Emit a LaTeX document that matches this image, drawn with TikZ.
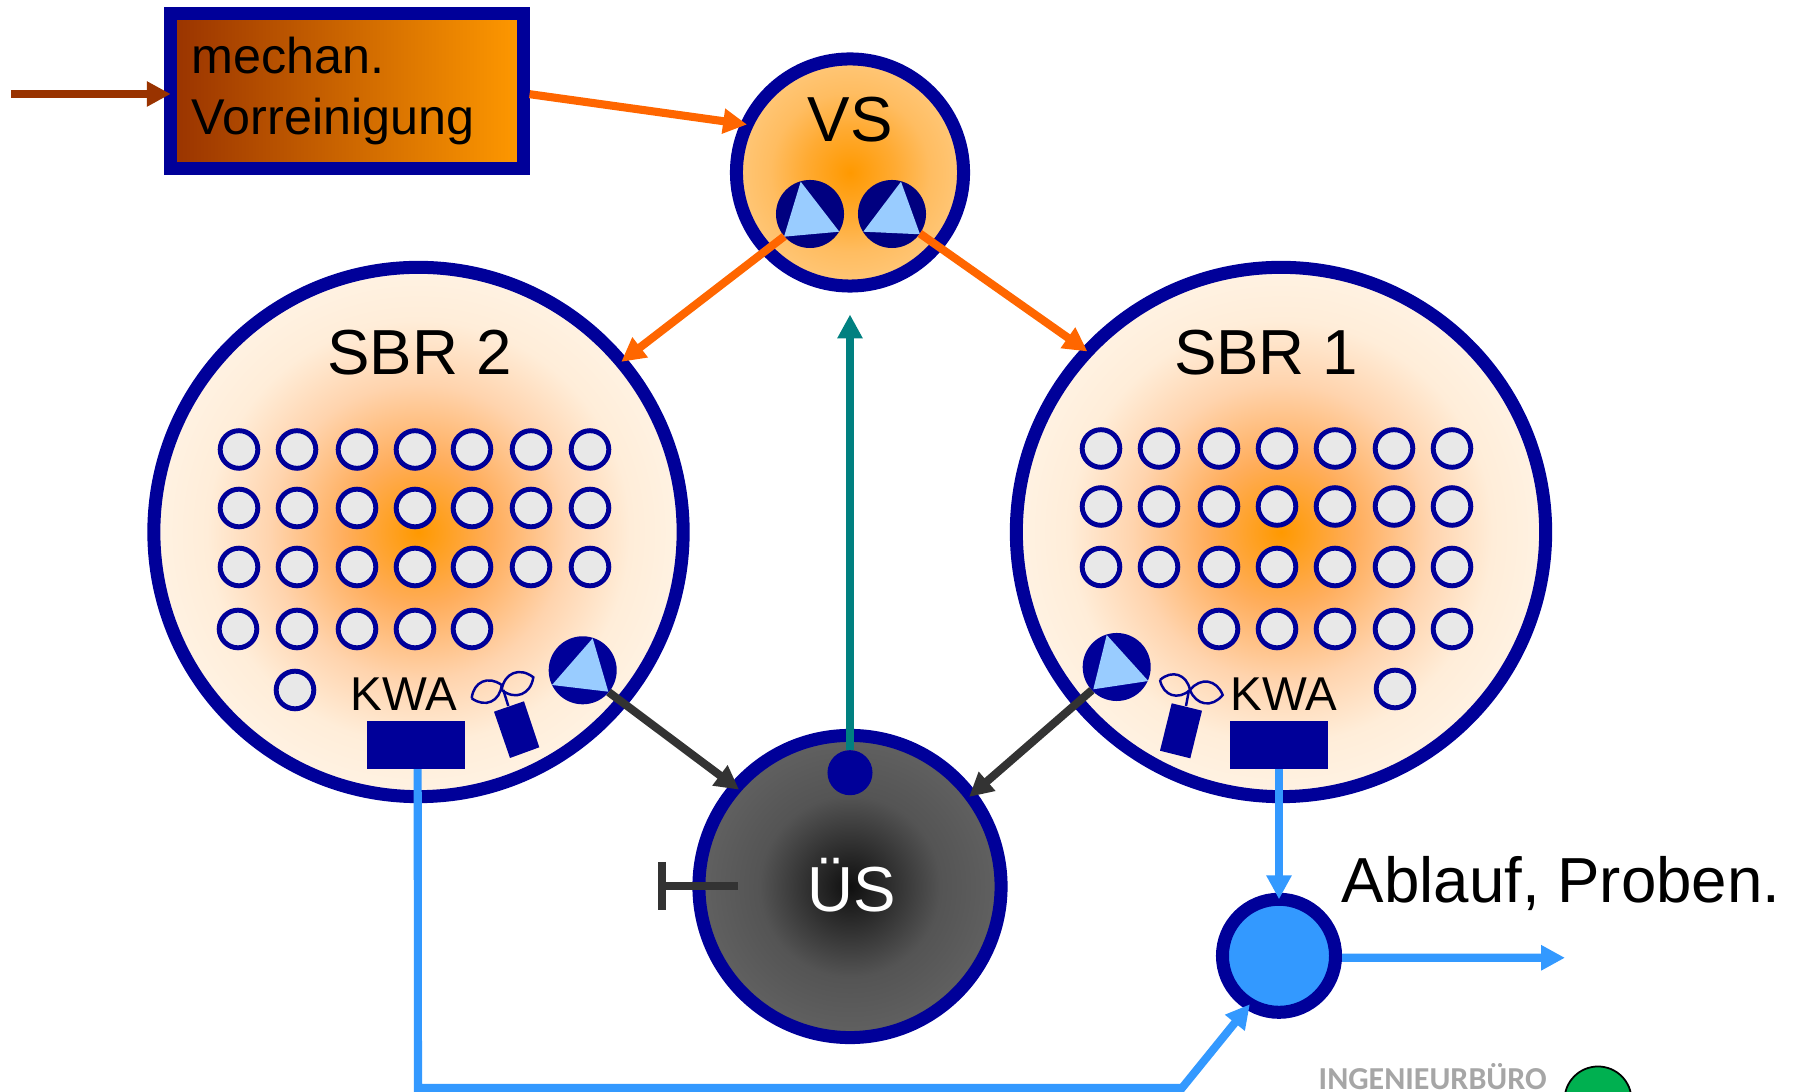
\documentclass[tikz,border=0pt]{standalone}
\usepackage{fontspec}
\setmainfont{Liberation Sans}
\newfontfamily\logofont{Carlito}
\usetikzlibrary{arrows.meta}
\definecolor{ringblue}{HTML}{000099}
\definecolor{pumpnavy}{HTML}{000080}
\definecolor{pumpsky}{HTML}{99CCFF}
\definecolor{bubblegrey}{HTML}{E8E8E8}
\definecolor{rawbrown}{HTML}{993300}
\definecolor{feedorange}{HTML}{FF6600}
\definecolor{glowcore}{HTML}{FF9900}
\definecolor{sludgedark}{HTML}{333333}
\definecolor{returnteal}{HTML}{008080}
\definecolor{cleanblue}{HTML}{3399FF}
\definecolor{logogrey}{HTML}{A6A6A6}
\definecolor{logogreen}{HTML}{00B050}
\pgfdeclareradialshading{sbrglow}{\pgfpoint{0bp}{0bp}}{color(0bp)=(glowcore); rgb(7bp)=(1,0.68,0.36); rgb(14bp)=(1,0.83,0.68); rgb(20bp)=(1,0.93,0.85); rgb(25bp)=(1,0.95,0.89); rgb(50bp)=(1,0.95,0.89)}
\pgfdeclareradialshading{vsglow}{\pgfpoint{0bp}{0bp}}{color(0bp)=(glowcore); rgb(10bp)=(1,0.67,0.2); rgb(17.5bp)=(1,0.74,0.38); rgb(25bp)=(1,0.78,0.47); rgb(50bp)=(1,0.78,0.47)}
\pgfdeclareradialshading{usglow}{\pgfpoint{0bp}{0bp}}{rgb(0bp)=(0.06,0.06,0.06); rgb(6bp)=(0.17,0.17,0.17); rgb(15bp)=(0.33,0.33,0.33); rgb(25bp)=(0.38,0.38,0.38); rgb(50bp)=(0.38,0.38,0.38)}
\tikzset{
  ring/.style={circle,draw=ringblue,line width=3.7pt,inner sep=0pt,outer sep=0pt,shade},
  bubble/.style={circle,draw=ringblue,fill=bubblegrey,line width=1.4pt,inner sep=0pt,outer sep=0pt,minimum size=.376cm},
  pump/.style={circle,fill=ringblue,inner sep=0pt,outer sep=0pt,minimum size=.68cm},
  kwabox/.style={rectangle,fill=ringblue,inner sep=0pt,outer sep=0pt,minimum width=.97cm,minimum height=.48cm},
  flow/.style={line width=2.3pt,-{Triangle[length=6.8pt,width=6.8pt]}},
  leaf/.style={draw=ringblue,line width=.7pt,bend left=60,looseness=1.3},
  big/.style={font=\fontsize{18.1}{21}\selectfont,inner sep=0pt,anchor=base},
  kwalabel/.style={font=\fontsize{13.5}{16}\selectfont,inner sep=0pt,anchor=base}
}
\begin{document}
\begin{tikzpicture}[x=.01cm,y=-.01cm]
\useasboundingbox (0,0) rectangle (1793,1092);
\clip (0,0) rectangle (1793,1092);
\node[rectangle,draw=ringblue,line width=3.7pt,left color=rawbrown,right color=glowcore,inner sep=.21cm,text width=3.1cm,minimum height=1.54cm,align=left,font=\fontsize{14.3}{17.24}\selectfont] (vorr) at (347,91) {mechan.\\Vorreinigung};
\node[ring,shading=vsglow,minimum size=2.27cm] (vs) at (850,172.5) {};
\node[ring,shading=sbrglow,minimum size=5.29cm] (sbrII) at (418.5,532) {};
\node[ring,shading=sbrglow,minimum size=5.29cm] (sbrI) at (1281,532) {};
\node[ring,shading=usglow,minimum size=3.02cm] (us) at (850,886.5) {};
\node[circle,draw=ringblue,fill=cleanblue,line width=3.7pt,inner sep=0pt,outer sep=0pt,minimum size=1.13cm] (abl) at (1279,955.8) {};
\node[big] (vslabel) at (850,141.7) {VS};
\node[big] (sbrIIlabel) at (419.5,375) {SBR 2};
\node[big] (sbrIlabel) at (1266,375) {SBR 1};
\node[big,white] (uslabel) at (852,911.7) {ÜS};
\node[big,anchor=base west] (abllabel) at (1341,902.7) {Ablauf, Proben.};
\node[kwalabel] (kwaIIlabel) at (404,710.7) {KWA};
\node[kwalabel] (kwaIlabel) at (1284,710.7) {KWA};
\foreach \y [count=\j] in {449.5,508,567}
  \foreach \x [count=\i] in {239,297,357,415,472,531,590}
    \node[bubble] (bII-\j-\i) at (\x,\y) {};
\foreach \x [count=\i] in {238,297,357,415,472}
  \node[bubble] (bII-4-\i) at (\x,629) {};
\foreach \y [count=\j] in {448.5,506.5,567}
  \foreach \x [count=\i] in {1101,1159,1219,1277,1335,1394,1452}
    \node[bubble] (bI-\j-\i) at (\x,\y) {};
\foreach \x [count=\i] in {1219,1277,1335,1394,1452}
  \node[bubble] (bI-4-\i) at (\x,629) {};
\node[bubble] (bIIextra) at (295,690) {};
\node[bubble] (bIextra) at (1395,689) {};
\node[kwabox] (kwaII) at (416,745) {};
\node[kwabox] (kwaI) at (1279,745) {};
\node[pump,fill=pumpnavy] (pumpvsl) at (810,214) {};
\node[pump,fill=pumpnavy] (pumpvsr) at (892,214) {};
\node[pump] (pumpII) at (582.7,670.3) {};
\node[pump] (pumpI) at (1116.7,667) {};
\fill[pumpsky] (800.7,181.7) -- (839.3,231.7) -- (784,236.7) -- cycle;
\fill[pumpsky] (901,181.7) -- (920,234.3) -- (863.3,231.7) -- cycle;
\fill[pumpsky] (592.7,638.3) -- (608.3,691.7) -- (552,685) -- cycle;
\fill[pumpsky] (1106.7,635) -- (1148.3,681) -- (1093.3,689.3) -- cycle;
\fill[ringblue] (494,711.7) -- (524,701.3) -- (539.3,747.3) -- (510,758) -- cycle;
\fill[ringblue] (1171.7,703.3) -- (1202,710.7) -- (1190.3,758.3) -- (1160,750.7) -- cycle;
\draw[draw=ringblue,line width=.7pt] (508.3,706) -- (503.3,690);
\draw[leaf] (471.7,698.3) to (501.7,685) to (471.7,698.3);
\draw[leaf] (501.7,690) to (533.3,677.3) to (501.7,690);
\draw[draw=ringblue,line width=.7pt] (1186,706) -- (1189,690);
\draw[leaf] (1160,680) to (1190,690) to (1160,680);
\draw[leaf] (1190,690) to (1222.7,695) to (1190,690);
\node[circle,fill=ringblue,inner sep=0pt,outer sep=0pt,minimum size=.45cm] (usdot) at (850,772.7) {};
\coordinate (rawin) at (11,94);
\coordinate (rawtip) at (170.7,94);
\coordinate (tealtip) at (850,314.5);
\coordinate (drainin) at (738,886);
\coordinate (drainend) at (662,886);
\coordinate (draintop) at (662,862);
\coordinate (drainbot) at (662,910);
\coordinate (cornerleft) at (418,1088);
\coordinate (cornerright) at (1182,1088);
\coordinate (ablout) at (1565,957.8);
\draw[flow,rawbrown] (rawin) -- (rawtip);
\draw[flow,feedorange] (vorr.-1.3) -- (vs.155);
\draw[flow,feedorange] (pumpvsl.221) -- (sbrII.40);
\draw[flow,feedorange] (pumpvsr.-35.5) -- (sbrI.137.6);
\draw[flow,returnteal] (usdot.north) -- (tealtip);
\draw[flow,sludgedark,shorten >=-1.1pt] (pumpII.-40) -- (us.139.5);
\draw[flow,sludgedark,shorten >=-.6pt] (pumpI.223.6) -- (us.37.4);
\draw[line width=2.3pt,sludgedark] (drainin) -- (drainend);
\draw[line width=2.3pt,sludgedark] (draintop) -- (drainbot);
\draw[flow,cleanblue] (kwaII.-86) -- (cornerleft) -- (cornerright) -- (abl.239.2);
\draw[flow,cleanblue] (kwaI.south) -- (abl.north);
\draw[flow,cleanblue,shorten <=1.85pt] (abl.-2) -- (ablout);
\node[anchor=base west,inner sep=0pt,text=logogrey,font=\logofont\bfseries\fontsize{9.1}{11}\selectfont] (logotext) at (1318,1090) {INGENIEURBÜRO};
\node[circle,draw=black,fill=logogreen,line width=.5pt,inner sep=0pt,minimum size=.67cm] (logodisc) at (1598,1100) {};
\end{tikzpicture}
\end{document}
